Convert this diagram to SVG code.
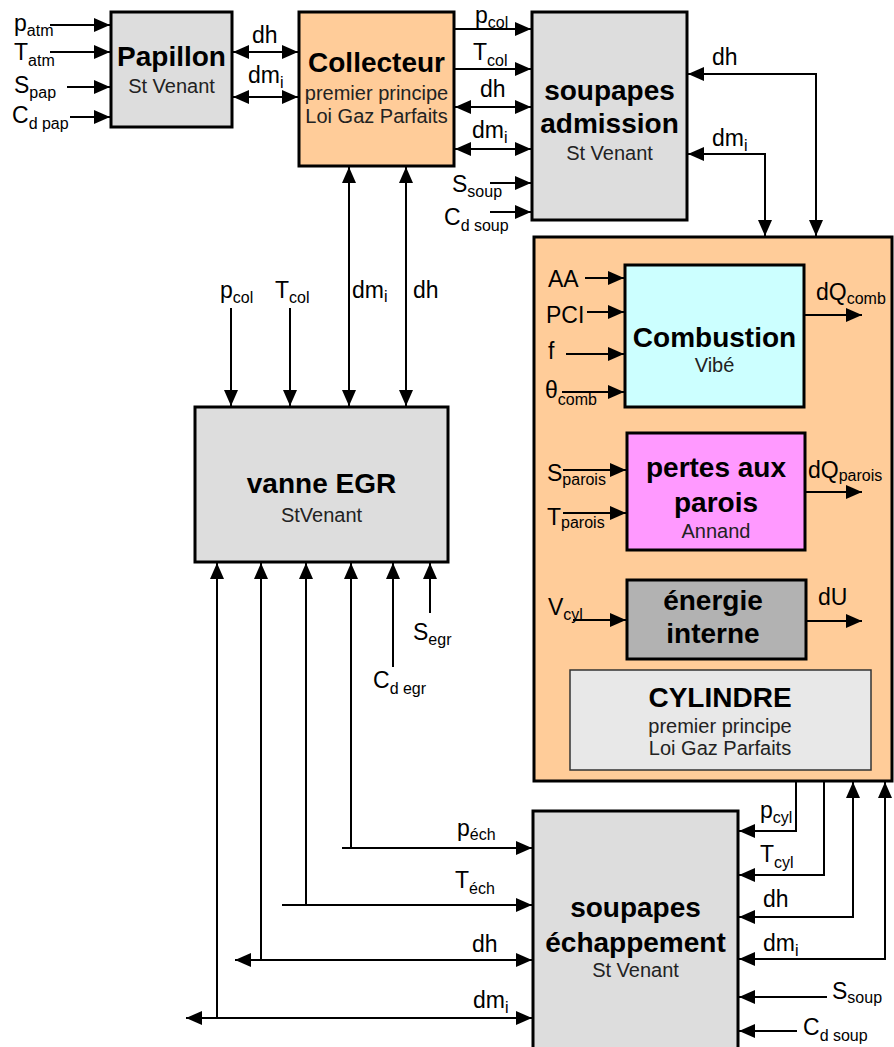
<svg xmlns="http://www.w3.org/2000/svg" width="894" height="1047" viewBox="0 0 894 1047">
<style>
text { font-family: "Liberation Sans", Arial, sans-serif; fill: #000; }
.t { font-size: 28px; font-weight: bold; text-anchor: middle; }
.s { font-size: 20px; text-anchor: middle; fill: #222; }
.l { font-size: 23px; }
.b { font-size: 16px; }
.box { stroke: #000; stroke-width: 3; }
.gray { fill: #DDDDDD; }
.peach { fill: #FFCC99; }
.ln { fill: none; stroke: #000; stroke-width: 2; }
.a { marker-end: url(#ah); }
.aa { marker-start: url(#ah); marker-end: url(#ah); }
</style>
<defs>
<marker id="ah" viewBox="0 0 16 14" refX="16" refY="7" markerWidth="16" markerHeight="14" markerUnits="userSpaceOnUse" orient="auto-start-reverse">
<path d="M0,0 L16,7 L0,14 z" fill="#000"/>
</marker>
</defs>

<g id="cylinder">
<rect class="box peach" x="534" y="237" width="358" height="544"/>
</g>
<g id="papillon">
<rect class="box gray" x="111" y="12" width="121" height="115"/>
<text class="t" x="171.5" y="66">Papillon</text>
<text class="s" x="171.5" y="93">St Venant</text>
</g>
<g id="collecteur">
<rect class="box peach" x="299" y="12" width="155" height="154"/>
<text class="t" x="376.5" y="72">Collecteur</text>
<text class="s" x="376.5" y="100">premier principe</text>
<text class="s" x="376.5" y="123">Loi Gaz Parfaits</text>
</g>
<g id="soupapes-admission">
<rect class="box gray" x="532" y="12" width="155" height="208"/>
<text class="t" x="609.5" y="100">soupapes</text>
<text class="t" x="609.5" y="133">admission</text>
<text class="s" x="609.5" y="160">St Venant</text>
</g>
<g id="combustion">
<rect class="box" fill="#CCFFFF" x="625" y="265" width="179" height="142"/>
<text class="t" x="714.5" y="347">Combustion</text>
<text class="s" x="714.5" y="372">Vibé</text>
</g>
<g id="pertes">
<rect class="box" fill="#FF99FF" x="627" y="433" width="178" height="117"/>
<text class="t" x="716" y="477">pertes aux</text>
<text class="t" x="716" y="512">parois</text>
<text class="s" x="716" y="538">Annand</text>
</g>
<g id="energie">
<rect class="box" fill="#B2B2B2" x="627" y="580" width="179" height="79"/>
<text class="t" x="713" y="610">énergie</text>
<text class="t" x="713" y="643">interne</text>
</g>
<g id="cylindre-label">
<rect fill="#E8E8E8" stroke="#333" stroke-width="1.5" x="570" y="670" width="301" height="100"/>
<text class="t" x="720" y="707">CYLINDRE</text>
<text class="s" x="720" y="733">premier principe</text>
<text class="s" x="720" y="755">Loi Gaz Parfaits</text>
</g>
<g id="vanne-egr">
<rect class="box gray" x="195" y="407" width="253" height="155"/>
<text class="t" x="321.5" y="493">vanne EGR</text>
<text class="s" x="321.5" y="522">StVenant</text>
</g>
<g id="soupapes-echappement">
<rect class="box gray" x="533" y="811" width="205" height="260"/>
<text class="t" x="635.5" y="917">soupapes</text>
<text class="t" x="635.5" y="952">échappement</text>
<text class="s" x="635.5" y="977">St Venant</text>
</g>

<g id="connectors">
<line class="ln a" x1="50" y1="25" x2="110" y2="25"/>
<line class="ln a" x1="50" y1="52" x2="110" y2="52"/>
<line class="ln a" x1="67" y1="87" x2="110" y2="87"/>
<line class="ln a" x1="70" y1="117" x2="110" y2="117"/>
<line class="ln aa" x1="233" y1="52" x2="298" y2="52"/>
<line class="ln aa" x1="233" y1="97" x2="298" y2="97"/>
<line class="ln a" x1="455" y1="29" x2="531" y2="29"/>
<line class="ln a" x1="455" y1="69" x2="531" y2="69"/>
<line class="ln aa" x1="455" y1="107" x2="531" y2="107"/>
<line class="ln aa" x1="455" y1="149" x2="531" y2="149"/>
<line class="ln a" x1="490" y1="183" x2="531" y2="183"/>
<line class="ln a" x1="490" y1="212" x2="531" y2="212"/>
<polyline class="ln aa" points="688,74 816,74 816,236"/>
<polyline class="ln aa" points="688,154 765,154 765,236"/>
<line class="ln a" x1="585" y1="278" x2="624" y2="278"/>
<line class="ln a" x1="587" y1="312" x2="624" y2="312"/>
<line class="ln a" x1="566" y1="354" x2="624" y2="354"/>
<line class="ln a" x1="562" y1="392" x2="624" y2="392"/>
<line class="ln a" x1="805" y1="315" x2="862" y2="315"/>
<line class="ln a" x1="563" y1="470" x2="626" y2="470"/>
<line class="ln a" x1="563" y1="513" x2="626" y2="513"/>
<line class="ln a" x1="806" y1="492" x2="862" y2="492"/>
<line class="ln a" x1="573" y1="620" x2="626" y2="620"/>
<line class="ln a" x1="807" y1="621" x2="862" y2="621"/>
<line class="ln a" x1="231" y1="308" x2="231" y2="406"/>
<line class="ln a" x1="290" y1="308" x2="290" y2="406"/>
<line class="ln aa" x1="349" y1="167" x2="349" y2="406"/>
<line class="ln aa" x1="406" y1="167" x2="406" y2="406"/>
<line class="ln a" x1="217" y1="1018" x2="217" y2="563"/>
<line class="ln a" x1="261" y1="960" x2="261" y2="563"/>
<line class="ln a" x1="306" y1="905" x2="306" y2="563"/>
<line class="ln a" x1="351" y1="848" x2="351" y2="563"/>
<line class="ln a" x1="393" y1="667" x2="393" y2="563"/>
<line class="ln a" x1="430" y1="613" x2="430" y2="563"/>
<line class="ln a" x1="342" y1="848" x2="532" y2="848"/>
<line class="ln a" x1="282" y1="905" x2="532" y2="905"/>
<line class="ln aa" x1="235" y1="960" x2="532" y2="960"/>
<line class="ln aa" x1="186" y1="1018" x2="532" y2="1018"/>
<polyline class="ln a" points="796,782 796,831 739,831"/>
<polyline class="ln a" points="824,782 824,875 739,875"/>
<polyline class="ln aa" points="739,917 853,917 853,782"/>
<polyline class="ln aa" points="739,959 885,959 885,782"/>
<line class="ln a" x1="827" y1="997" x2="739" y2="997"/>
<line class="ln a" x1="797" y1="1031" x2="739" y2="1031"/>
</g>

<g id="labels">
<text class="l" x="14" y="31">p<tspan class="b" y="36">atm</tspan></text>
<text class="l" x="14" y="60">T<tspan class="b" y="66">atm</tspan></text>
<text class="l" x="14" y="93">S<tspan class="b" y="98">pap</tspan></text>
<text class="l" x="12" y="123">C<tspan class="b" y="129">d pap</tspan></text>
<text class="l" x="252" y="43">dh</text>
<text class="l" x="248" y="83">dm<tspan class="b" y="88">i</tspan></text>
<text class="l" x="475" y="23">p<tspan class="b" y="28">col</tspan></text>
<text class="l" x="473" y="60">T<tspan class="b" y="66">col</tspan></text>
<text class="l" x="480" y="97">dh</text>
<text class="l" x="472" y="138">dm<tspan class="b" y="143">i</tspan></text>
<text class="l" x="452" y="192">S<tspan class="b" y="197">soup</tspan></text>
<text class="l" x="444" y="225">C<tspan class="b" y="231">d soup</tspan></text>
<text class="l" x="712" y="65">dh</text>
<text class="l" x="712" y="146">dm<tspan class="b" y="151">i</tspan></text>
<text class="l" x="548" y="287">AA</text>
<text class="l" x="546" y="323">PCI</text>
<text class="l" x="548" y="359">f</text>
<text class="l" x="545" y="398">θ<tspan class="b" y="405">comb</tspan></text>
<text class="l" x="816" y="300">dQ<tspan class="b" y="304">comb</tspan></text>
<text class="l" x="547" y="481">S<tspan class="b" y="485">parois</tspan></text>
<text class="l" x="547" y="525">T<tspan class="b" y="528">parois</tspan></text>
<text class="l" x="808" y="478">dQ<tspan class="b" y="481">parois</tspan></text>
<text class="l" x="548" y="615">V<tspan class="b" y="620">cyl</tspan></text>
<text class="l" x="818" y="605">dU</text>
<text class="l" x="220" y="298">p<tspan class="b" y="303">col</tspan></text>
<text class="l" x="275" y="298">T<tspan class="b" y="303">col</tspan></text>
<text class="l" x="352" y="298">dm<tspan class="b" y="302">i</tspan></text>
<text class="l" x="413" y="298">dh</text>
<text class="l" x="413" y="640">S<tspan class="b" y="645">egr</tspan></text>
<text class="l" x="373" y="688">C<tspan class="b" y="694">d egr</tspan></text>
<text class="l" x="457" y="836">p<tspan class="b" y="840">éch</tspan></text>
<text class="l" x="455" y="888">T<tspan class="b" y="894">éch</tspan></text>
<text class="l" x="472" y="952">dh</text>
<text class="l" x="473" y="1008">dm<tspan class="b" y="1013">i</tspan></text>
<text class="l" x="760" y="818">p<tspan class="b" y="823">cyl</tspan></text>
<text class="l" x="760" y="862">T<tspan class="b" y="868">cyl</tspan></text>
<text class="l" x="763" y="907">dh</text>
<text class="l" x="763" y="951">dm<tspan class="b" y="956">i</tspan></text>
<text class="l" x="832" y="999">S<tspan class="b" y="1003">soup</tspan></text>
<text class="l" x="803" y="1035">C<tspan class="b" y="1041">d soup</tspan></text>
</g>
</svg>
